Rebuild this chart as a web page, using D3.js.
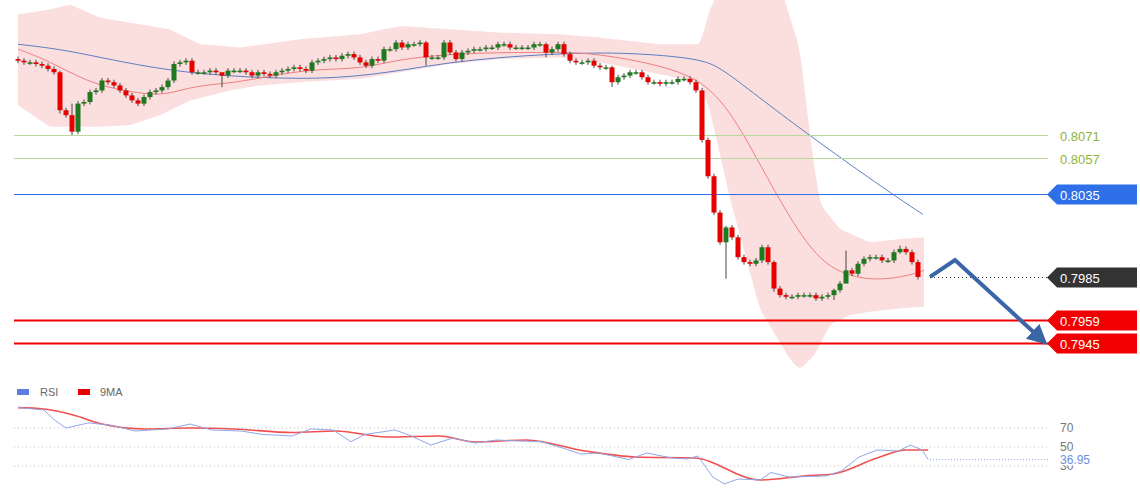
<!DOCTYPE html>
<html>
<head>
<meta charset="utf-8">
<script src="https://cdn.jsdelivr.net/npm/d3@7"></script>
<style>
  body { margin: 0; background: #fff; }
  svg { display: block; font-family: "Liberation Sans", Arial, sans-serif; }
</style>
</head>
<body>
<svg id="viz" width="1140" height="500"></svg>
<script>
// closes in pips (price * 10000), one per candle, open = previous close
const closes = [
  8116,8115,8115,8114,8113,8111,8109,8086,8083,8073,
  8090,8091,8097,8098,8104,8103,8101,8098,8095,8092,
  8090,8094,8097,8098,8100,8104,8114,8115,8116,8109,
  8109,8109,8110,8109,8107,8110,8110,8110,8109,8107,
  8109,8108,8107,8109,8110,8111,8112,8111,8110,8115,
  8116,8117,8118,8117,8119,8120,8118,8115,8113,8117,
  8116,8123,8123,8127,8124,8126,8126,8127,8118,8118,
  8118,8127,8121,8117,8121,8122,8123,8123,8124,8124,
  8126,8126,8124,8124,8124,8124,8126,8126,8121,8123,
  8126,8120,8116,8115,8115,8116,8113,8112,8112,8103,
  8106,8107,8109,8109,8106,8103,8103,8102,8103,8103,
  8105,8105,8103,8098,8068,8046,8024,8006,8015,8009,
  7997,7994,7993,7995,8003,7994,7978,7974,7973,7973,
  7974,7974,7974,7972,7973,7974,7977,7981,7989,7987,
  7993,7996,7997,7997,7995,7995,8000,8002,8000,7994,
  7985
];
const firstOpen = 8117;
// candles with long wicks: index -> [high, low] in pips
const wicks = { 7: [8110, 8084], 9: [8090, 8071], 34: [8108, 8100], 68: [8128, 8113],
  88: [8127, 8118], 99: [8113, 8100], 118: [8016, 7984], 126: [7995, 7976],
  136: [7978, 7971], 138: [8001, 7986], 147: [8004, 7999] };
const WICK = 1.5;

// indicator lines: [candle index, pips]
const maSlow = [[0,8126],[7,8123],[13.7,8118],[22,8112],[30.3,8108],[38.7,8106],[47,8105],[55.3,8106],
  [63.7,8110],[72,8115],[80.3,8118],[88.7,8120],[97,8121],[105.3,8120],[113.7,8117],[117,8112],
  [122,8098],[130.3,8075],[138.7,8053],[147,8032],[150.8,8023]];
const maFast = [[0,8123],[3.7,8118],[7,8112],[10.3,8106],[13.7,8101],[18.7,8097],[23.7,8095],[27,8098],
  [30.3,8101],[37,8103],[43.7,8108],[50.3,8111],[57,8111],[63.7,8117],[72,8120],[80.3,8121],
  [88.7,8121],[93.7,8121],[100.3,8118],[107,8113],[113.7,8105],[118.7,8086],[123.7,8053],
  [128.7,8020],[133.7,7994],[138.7,7985],[143.7,7983],[148.7,7986],[151,7989]];
const bandUpper = [[0,8144],[5.3,8147],[8.7,8150],[13.7,8142],[20.3,8138],[25.3,8135],[30.3,8126],
  [37,8124],[47,8129],[57,8132],[63.7,8137],[72,8135],[80.3,8133],[90.3,8132],[97,8130],
  [107,8126],[113.7,8126],[115.3,8147],[117.8,8165],[127,8162],[130.3,8123],[132.3,8062],
  [133.7,8029],[137,8014],[142,8006],[147,8008],[151,8009]];
const bandLower = [[0,8089],[5.3,8076],[13.7,8076],[18.7,8077],[23.7,8083],[28.7,8092],[35.3,8098],
  [40.3,8101],[47,8103],[57,8105],[63.7,8109],[72,8114],[80.3,8117],[90.3,8118],[97,8115],
  [105.3,8109],[113.7,8103],[115.3,8086],[118.7,8032],[123.7,7965],[128.7,7935],[130.3,7929],
  [132.8,7938],[135.3,7956],[138.7,7962],[142,7964],[147,7966],[151,7967]];

const rsi = [[0,91.5],[4.3,89],[6.2,77.8],[8,70],[11.7,75.3],[15.3,73.2],[19.5,66.8],[25,69],[28.7,74.2],
  [32.3,67.9],[37.2,66.8],[40.8,63.2],[45.7,61.6],[48.8,69],[52.5,67.9],[55.5,55.6],[57.8,63.2],
  [62.8,67.9],[65.2,62.6],[68.8,52.1],[72.5,59.5],[76.2,54.2],[79.8,57.4],[83.5,56.3],[87.2,55.6],
  [90.8,48.9],[93.8,42.6],[96.8,43.7],[101.8,36.8],[104.8,43.7],[109,38.4],[111.5,37.4],[113.3,40.5],
  [115.8,18.4],[117.7,11.1],[120,16.3],[123.7,15.3],[125.5,23.2],[128.5,18.4],[134.7,19.5],
  [137.2,24.7],[140.2,39.5],[143.2,46.8],[146.8,45.8],[148.7,52.1],[150.7,46.8],[151.7,36.95]];
const rsiMa = [[0,91.5],[4.3,90],[9.2,83.7],[14,74.2],[21.3,69],[28.7,70],[36,69],[45.7,65.2],[53,66.8],
  [61.5,60.5],[70.2,61.6],[76.2,55.3],[84.7,57.4],[94.5,45.8],[103,39.5],[112.7,38.4],[123.7,15.3],
  [131,19.5],[135.8,21.6],[143.2,38.4],[148,46.8],[151.7,46.8]];

const levels = [
  { v: 0.8071, kind: "green" }, { v: 0.8057, kind: "green" }, { v: 0.8035, kind: "blue" },
  { v: 0.7985, kind: "dark" }, { v: 0.7959, kind: "red" }, { v: 0.7945, kind: "red" }
];
const rsiTicks = [70, 50, 30];
const rsiLast = 36.95;

const svg = d3.select("#viz");
const x = d3.scaleLinear().domain([0, 150]).range([18, 918]);
const y = d3.scaleLinear().domain([0.7945, 0.8071]).range([343, 135]);
const p = v => v / 10000;
const yr = d3.scaleLinear().domain([30, 70]).range([466, 428]);

const plot = svg.append("g");

// bollinger band
const area = d3.area().curve(d3.curveBasis)
  .x(d => x(d[0])).y0(d => y(p(d[1]))).y1(d => y(p(d[2])));
const bandData = d3.range(0, 151.01, 0.5).map(t => {
  const interp = arr => {
    const j = Math.max(1, d3.bisector(d => d[0]).left(arr, t));
    const a = arr[Math.min(j - 1, arr.length - 2)], b = arr[Math.min(j, arr.length - 1)];
    return a[1] + (b[1] - a[1]) * (t - a[0]) / (b[0] - a[0]);
  };
  return [t, interp(bandUpper), interp(bandLower)];
});
plot.append("path").datum(bandData).attr("d", area).attr("fill", "#fbdada").attr("opacity", 0.9);

const line = d3.line().curve(d3.curveBasis).x(d => x(d[0])).y(d => y(p(d[1])));
plot.append("path").datum(maSlow).attr("d", line).attr("fill", "none").attr("stroke", "#5a7fc4").attr("stroke-width", 1);
plot.append("path").datum(maFast).attr("d", line).attr("fill", "none").attr("stroke", "#f08080").attr("stroke-width", 1);

// levels
levels.forEach(l => {
  const yy = Math.round(y(l.v)) + 0.5;
  if (l.kind === "green") {
    plot.append("line").attr("x1", 14).attr("x2", 1048).attr("y1", yy).attr("y2", yy).attr("stroke", "#b9d99c");
    svg.append("text").attr("x", 1060).attr("y", yy + 5).text(l.v.toFixed(4))
      .attr("fill", "#8fb33c").attr("font-size", 13);
  } else {
    const col = l.kind === "blue" ? "#2f6fe8" : l.kind === "red" ? "#f00000" : "#333";
    if (l.kind === "dark") {
      plot.append("line").attr("x1", 930).attr("x2", 1048).attr("y1", yy).attr("y2", yy)
        .attr("stroke", "#333").attr("stroke-dasharray", "1,3");
    } else {
      plot.append("line").attr("x1", 14).attr("x2", 1048).attr("y1", yy).attr("y2", yy)
        .attr("stroke", col).attr("stroke-width", l.kind === "red" ? 2 : 1);
    }
    svg.append("path").attr("fill", col)
      .attr("d", `M1047,${yy}L1057,${yy - 10}L1137,${yy - 10}L1137,${yy + 10}L1057,${yy + 10}Z`);
    svg.append("text").attr("x", 1060).attr("y", yy + 5).text(l.v.toFixed(4))
      .attr("fill", "#fff").attr("font-size", 13);
  }
});

// candles
const candles = closes.map((c, i) => {
  const o = i === 0 ? firstOpen : closes[i - 1];
  const w = wicks[i] || [Math.max(o, c) + WICK, Math.min(o, c) - WICK];
  return { i, o, c, h: w[0], l: w[1] };
});
const cg = plot.append("g");
cg.selectAll("line").data(candles).join("line")
  .attr("x1", d => x(d.i)).attr("x2", d => x(d.i))
  .attr("y1", d => y(p(d.h))).attr("y2", d => y(p(d.l)))
  .attr("stroke", "#444").attr("stroke-width", 1);
cg.selectAll("rect").data(candles).join("rect")
  .attr("x", d => x(d.i) - 2.5).attr("width", 5)
  .attr("y", d => y(p(Math.max(d.o, d.c))))
  .attr("height", d => Math.max(1.5, Math.abs(y(p(d.o)) - y(p(d.c)))))
  .attr("fill", d => d.c >= d.o ? "#1f7a1f" : "#e60000");

// forecast arrow
const last = closes[closes.length - 1];
const arrowPts = [[x(150) + 12, y(p(last))], [955, 260], [1040, 338]];
svg.append("defs").append("marker").attr("id", "ah").attr("viewBox", "0 0 10 10")
  .attr("refX", 5).attr("refY", 5).attr("markerWidth", 5).attr("markerHeight", 5).attr("orient", "auto")
  .append("path").attr("d", "M0,0L10,5L0,10Z").attr("fill", "#3a66a8");
svg.append("path").attr("d", d3.line()(arrowPts)).attr("fill", "none")
  .attr("stroke", "#3a66a8").attr("stroke-width", 4).attr("marker-end", "url(#ah)");

// RSI panel
const leg = svg.append("g").attr("font-size", 11).attr("fill", "#666");
leg.append("rect").attr("x", 17).attr("y", 389).attr("width", 12).attr("height", 6).attr("fill", "#5b7fdc");
leg.append("text").attr("x", 40).attr("y", 396).text("RSI");
leg.append("rect").attr("x", 78).attr("y", 389).attr("width", 12).attr("height", 6).attr("fill", "#e60000");
leg.append("text").attr("x", 100).attr("y", 396).text("9MA");

rsiTicks.forEach(t => {
  svg.append("line").attr("x1", 14).attr("x2", 1048).attr("y1", yr(t)).attr("y2", yr(t))
    .attr("stroke", "#bbb").attr("stroke-dasharray", "1,3");
  svg.append("text").attr("x", 1060).attr("y", yr(t) + 4).text(t).attr("fill", "#777").attr("font-size", 12);
});
const rline = d3.line().curve(d3.curveMonotoneX).x(d => x(d[0])).y(d => yr(d[1]));
svg.append("path").datum(rsiMa).attr("d", rline).attr("fill", "none").attr("stroke", "#f05050").attr("stroke-width", 1.6);
svg.append("path").datum(rsi).attr("d", d3.line().x(d => x(d[0])).y(d => yr(d[1]))).attr("fill", "none")
  .attr("stroke", "#8fa8e8").attr("stroke-width", 1);
svg.append("line").attr("x1", 930).attr("x2", 1050).attr("y1", yr(rsiLast)).attr("y2", yr(rsiLast))
  .attr("stroke", "#8fa8e8").attr("stroke-dasharray", "1,2");
svg.append("rect").attr("x", 1056).attr("y", yr(rsiLast) - 8).attr("width", 44).attr("height", 14).attr("fill", "#fff");
svg.append("text").attr("x", 1060).attr("y", yr(rsiLast) + 5).text(rsiLast.toFixed(2))
  .attr("fill", "#6d8fe0").attr("font-size", 12);
</script>
</body>
</html>
